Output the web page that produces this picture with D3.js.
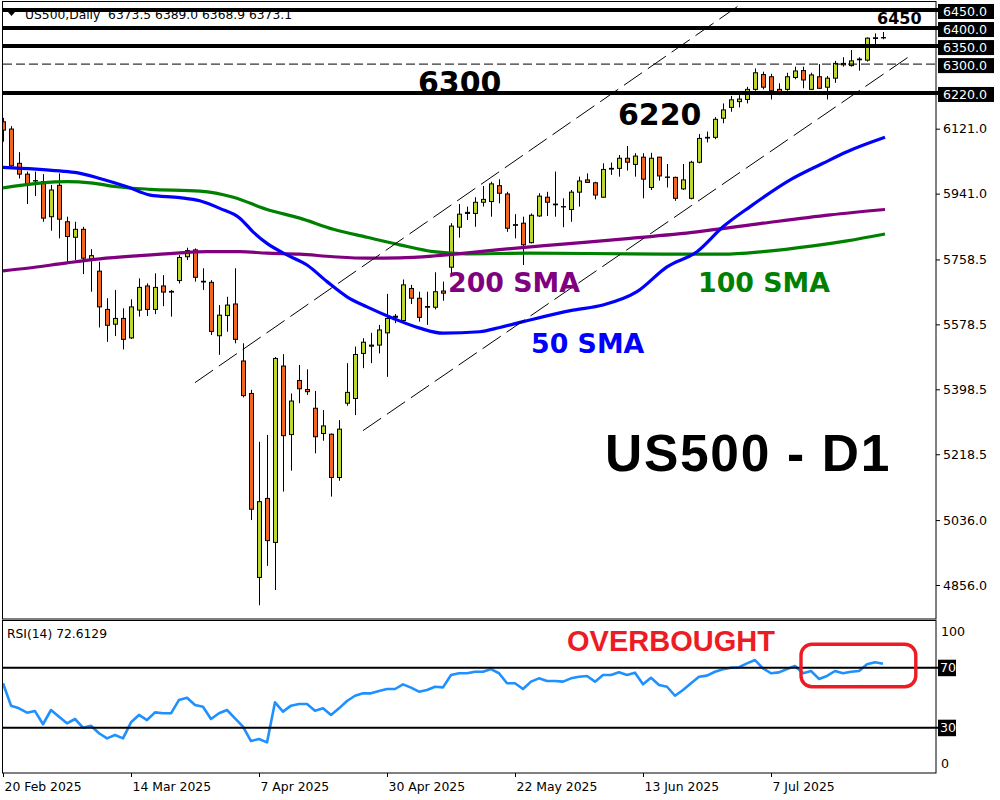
<!DOCTYPE html>
<html><head><meta charset="utf-8">
<script src="https://cdn.jsdelivr.net/npm/d3@7"></script>
<style>body{margin:0;background:#fff}svg{display:block}</style>
</head><body><svg id="c" width="1000" height="800"></svg>
<script>
// ---------- data ----------
const tickIdx = [0,16,32,48,64,80,96];
const tickLabels = ["20 Feb 2025","14 Mar 2025","7 Apr 2025","30 Apr 2025","22 May 2025","13 Jun 2025","7 Jul 2025"];
const open = [6140,6120,6025,5995,5976,5974,5877,5964,5863,5820,
5842,5760,5726,5620,5579,5595,5541,5618,5685,5620,
5685,5668,5700,5766,5785,5698,5695,5547,5603,5635,
5477,5387,4877,5096,4974,5463,5273,5423,5398,5346,
5276,5274,5154,5360,5373,5498,5518,5521,5555,5598,
5589,5678,5651,5626,5626,5671,5737,5848,5886,5886,
5917,5919,5963,5940,5853,5859,5805,5879,5931,5910,
5905,5897,5945,5979,5971,5931,6009,6011,6039,6022,
6042,5958,6042,5987,5986,5954,5928,6028,6095,6097,
6150,6180,6196,6202,6230,6271,6265,6230,6230,6263,
6282,6230,6265,6236,6261,6302,6296,6312,6311,6371,
6373.5];
const high = [6151,6128,6056,6002,6002,5995,5965,5997,5877,5863,
5849,5787,5752,5651,5674,5623,5648,5706,5692,5720,
5715,5674,5771,5791,5789,5734,5701,5632,5655,5734,
5526,5397,5253,5272,5488,5496,5387,5466,5454,5394,
5341,5276,5313,5471,5517,5540,5555,5577,5663,5607,
5703,5688,5669,5669,5723,5697,5859,5912,5905,5931,
5962,5974,5981,5946,5884,5877,5886,5942,5946,6002,
5928,5951,5988,5997,5974,6025,6027,6048,6073,6053,
6053,6054,6043,6023,5988,6023,6032,6106,6113,6153,
6191,6212,6214,6237,6288,6279,6273,6247,6276,6293,
6293,6276,6300,6267,6309,6319,6339,6319,6374,6385,
6389.0];
const low = [6085,6012,5983,5912,5934,5863,5838,5817,5752,5757,
5718,5669,5570,5530,5546,5509,5538,5600,5602,5607,
5629,5600,5692,5757,5697,5674,5549,5494,5558,5526,
5376,5036,4800,4909,4842,5115,5173,5360,5383,5221,
5256,5101,5145,5353,5327,5457,5471,5498,5433,5582,
5581,5635,5586,5577,5620,5644,5720,5819,5868,5849,
5905,5877,5914,5835,5817,5743,5803,5877,5879,5877,
5848,5863,5905,5971,5925,5929,5993,5988,6005,5988,
5928,5951,5977,5958,5921,5951,5925,6025,6083,6092,
6136,6168,6180,6191,6226,6230,6202,6214,6226,6258,
6233,6228,6231,6202,6248,6293,6293,6282,6307,6356,
6368.9];
const close = [6117,6018,5995,5968,5977,5873,5951,5870,5822,5842,
5762,5769,5627,5576,5595,5537,5627,5681,5620,5681,
5668,5670,5764,5783,5709,5696,5559,5604,5632,5537,
5381,5066,5087,4979,5484,5270,5366,5400,5392,5267,
5297,5154,5288,5390,5495,5529,5521,5563,5595,5601,
5688,5651,5598,5628,5669,5665,5851,5884,5889,5917,
5925,5968,5942,5845,5855,5799,5881,5934,5917,5912,
5904,5945,5976,5972,5937,6008,6011,6039,6028,6045,
5981,6039,5990,5986,5928,5979,6028,6094,6097,6147,
6173,6201,6203,6230,6276,6236,6226,6224,6265,6281,
6256,6270,6233,6261,6302,6298,6309,6314,6372,6373,
6373.1];
const rsi = [59.6,44.7,42.9,40,41.1,32.3,41.8,37.3,32.9,35.8,
30,31.3,26.3,22.9,25.1,22.9,33.6,38.5,35.1,40.2,
39.6,39.6,48.5,50,45.1,44,35.8,39.6,41.8,36.2,
30.7,21.1,22.5,20.2,46.9,40.7,44.7,45.8,45.8,41.3,
42.9,38.5,42.9,47.8,51.3,52.9,52.9,54.5,55.8,55.8,
58.9,56.7,54,55.1,57.3,56.9,65.1,66.3,66.3,67.3,
67.3,69.1,66.3,59.6,59.6,55.8,60.7,62.9,61.1,61.1,
60.7,62.9,64,64.5,60.7,65.1,65.1,66.9,65.1,66.7,
58.9,63.3,58.5,57.3,51.3,55.1,59.6,64,64.7,67.3,
68.9,70,70.3,72.9,75.1,69.6,66.3,66.9,69.1,71.1,
66.3,67.8,62.5,64.5,67.8,66.3,67.3,67.8,72.3,73.6,
72.6];
const sma50Idx = [0,7.1,9.2,12.1,15.5,18.4,22.1,24.6,27.1,29.6,31.25,33,35.5,38,40.5,43,45.5,48.8,52.1,55,59.6,62.1,65,71.25,75,79.25,83,86.75,90,93.4,98.4,102.5,105.5,110.25];
const sma50Val = [6014,6004,5999,5983,5960,5937,5930,5921,5900,5873,5835,5803,5771,5743,5697,5655,5627,5595,5568,5554,5558,5570,5586,5618,5632,5669,5738,5780,5849,5905,5979,6025,6057,6097];
const sma100Idx = [0,4.6,8,10.9,14.2,18.4,24.6,28.8,33,37.1,41.3,45.5,49.6,53.8,58,65.9,78.4,90,95,101.25,105.5,110.25];
const sma100Val = [5957,5970,5974,5971,5960,5953,5948,5931,5897,5873,5842,5820,5799,5780,5774,5776,5774,5773,5780,5796,5810,5829];
const sma200Idx = [0,3,8,12.1,17.1,21.7,25.5,29.6,33,37.1,41.3,45.5,49.6,53.8,61.7,70,78.4,86.75,95,103.4,110.25];
const sma200Val = [5727,5734,5749,5760,5769,5776,5780,5780,5776,5773,5766,5762,5763,5768,5785,5801,5817,5835,5859,5882,5897];
const channelIdx = [[24,92.1],[45,113.2]];
const channelVal = [[5417,6464],[5284,6320]];
const levelSolid = [6450,6400,6350,6220];
const levelDashed = [6300];
const axisTicks = [6121.0,5941.0,5758.5,5578.5,5398.5,5218.5,5036.0,4856.0];
const boxTicks = [6450,6400,6350,6300,6220];

// ---------- layout ----------
const L=3, R=936, T=2, MB=619, RT=621, RB=773;
const svg = d3.select('#c');
const x = d3.scaleLinear().domain([0,110]).range([3,883]);
const y = d3.scaleLinear().domain([4856,6450]).range([585,10]);
const yr = d3.scaleLinear().domain([0,100]).range([772.7,622.7]);
const UP='#BED630', DN='#F26522';
const FONT='"DejaVu Sans", Verdana, sans-serif';

const defs = svg.append('defs');
defs.append('clipPath').attr('id','cm').append('rect').attr('x',L).attr('y',T).attr('width',R-L).attr('height',MB-T);
defs.append('clipPath').attr('id','cr').append('rect').attr('x',L).attr('y',RT).attr('width',R-L).attr('height',RB-RT);

// header
svg.append('path').attr('d','M8,12 L15,12 L11.5,16 Z').attr('fill','#000');
svg.append('text').attr('x',25).attr('y',19).attr('font-family',FONT).attr('font-size',12.3)
  .attr('fill','#000').attr('xml:space','preserve').text('US500,Daily  6373.5 6389.0 6368.9 6373.1');

// big annotations
svg.append('text').attr('x',418).attr('y',92.5).attr('font-family',FONT).attr('font-weight','bold').attr('font-size',30).text('6300');
svg.append('text').attr('x',618).attr('y',125).attr('font-family',FONT).attr('font-weight','bold').attr('font-size',30).text('6220');
svg.append('text').attr('x',877).attr('y',24).attr('font-family',FONT).attr('font-weight','bold').attr('font-size',16).text('6450');

const gm = svg.append('g').attr('clip-path','url(#cm)');
// candles
const idx = d3.range(open.length);
gm.selectAll('line.w').data(idx).join('line').attr('class','w')
  .attr('x1',i=>x(i)+0.5).attr('x2',i=>x(i)+0.5)
  .attr('y1',i=>y(high[i])).attr('y2',i=>y(low[i]))
  .attr('stroke','#000').attr('stroke-width',1);
gm.selectAll('rect.b').data(idx).join('rect').attr('class','b')
  .attr('x',i=>x(i)-1.5).attr('width',4)
  .attr('y',i=>y(Math.max(open[i],close[i])))
  .attr('height',i=>Math.max(0.3,Math.abs(y(open[i])-y(close[i]))))
  .attr('fill',i=>close[i]>=open[i]?UP:DN).attr('stroke','#000').attr('stroke-width',1);

// SMAs
const smaLine = d3.line().x(d=>x(d[0])).y(d=>y(d[1])).curve(d3.curveMonotoneX);
[[sma100Idx,sma100Val,'#008000'],[sma200Idx,sma200Val,'#800080'],[sma50Idx,sma50Val,'#0000FF']].forEach(([ix,vv,c])=>{
  gm.append('path').attr('d',smaLine(ix.map((d,k)=>[d,vv[k]]))).attr('fill','none').attr('stroke',c).attr('stroke-width',3.2);
});

// channel
channelIdx.forEach((ix,k)=>{
  gm.append('line').attr('x1',x(ix[0])).attr('y1',y(channelVal[k][0])).attr('x2',x(ix[1])).attr('y2',y(channelVal[k][1]))
    .attr('stroke','#000').attr('stroke-width',1).attr('stroke-dasharray','22,7');
});

// level lines
svg.selectAll('line.lv').data(levelSolid).join('line').attr('class','lv')
  .attr('x1',L).attr('x2',938).attr('y1',d=>y(d)).attr('y2',d=>y(d)).attr('stroke','#000').attr('stroke-width',4);
svg.selectAll('line.ld').data(levelDashed).join('line').attr('class','ld')
  .attr('x1',L).attr('x2',R).attr('y1',d=>y(d)).attr('y2',d=>y(d)).attr('stroke','#000').attr('stroke-width',1).attr('stroke-dasharray','9,4');

// labels
svg.append('text').attr('x',448).attr('y',291.5).attr('font-family',FONT).attr('font-weight','bold').attr('font-size',26.8).attr('fill','#800080').text('200 SMA');
svg.append('text').attr('x',698).attr('y',292).attr('font-family',FONT).attr('font-weight','bold').attr('font-size',26.8).attr('fill','#008000').text('100 SMA');
svg.append('text').attr('x',531).attr('y',352.5).attr('font-family',FONT).attr('font-weight','bold').attr('font-size',26.8).attr('fill','#0000FF').text('50 SMA');
svg.append('text').attr('x',605).attr('y',470.5).attr('font-family','"Liberation Sans", Arial, sans-serif').attr('font-weight','bold').attr('font-size',51.5).attr('letter-spacing',1.7).text('US500 - D1');

// RSI panel
const gr = svg.append('g').attr('clip-path','url(#cr)');
[70,30].forEach(v=>{
  svg.append('line').attr('x1',L).attr('x2',938).attr('y1',yr(v)).attr('y2',yr(v)).attr('stroke','#000').attr('stroke-width',2);
});
gr.append('path').attr('d',d3.line().x((d,i)=>x(i)).y(d=>yr(d))(rsi)).attr('fill','none').attr('stroke','#1E90FF').attr('stroke-width',2.6).attr('stroke-linejoin','round');
svg.append('text').attr('x',7).attr('y',638).attr('font-family',FONT).attr('font-size',12.3).attr('fill','#000').text('RSI(14) 72.6129');
svg.append('text').attr('x',567).attr('y',651).attr('font-family','"Liberation Sans", Arial, sans-serif').attr('font-weight','bold').attr('font-size',29).attr('fill','#ED1C24').text('OVERBOUGHT');
svg.append('rect').attr('x',x(99.75)).attr('y',yr(85.6)).attr('width',x(114.1)-x(99.75)).attr('height',yr(57.3)-yr(85.6))
  .attr('rx',11).attr('fill','none').attr('stroke','#ED1C24').attr('stroke-width',3.4);

// frames
svg.append('rect').attr('x',2.5).attr('y',1.5).attr('width',933.5).attr('height',617.5).attr('fill','none').attr('stroke','#000');
svg.append('rect').attr('x',2.5).attr('y',620.5).attr('width',933.5).attr('height',152.5).attr('fill','none').attr('stroke','#000');

// right price axis
const ay = svg.append('g').attr('transform',`translate(${R},0)`)
  .call(d3.axisRight(y).tickValues(axisTicks).tickSize(4).tickFormat(d=>d.toFixed(1)));
ay.select('.domain').remove();
ay.selectAll('text').attr('font-family',FONT).attr('font-size',12.6).attr('fill','#000');
ay.selectAll('line').attr('stroke','#000');
boxTicks.forEach(v=>{
  svg.append('rect').attr('x',938).attr('y',y(v)+1.5-7.5).attr('width',56).attr('height',15).attr('fill','#000');
  svg.append('text').attr('x',943).attr('y',y(v)+1.5).attr('dy','0.35em').attr('font-family',FONT).attr('font-size',12.6).attr('fill','#fff').text(v.toFixed(1));
});

// RSI axis
[[100,9],[0,-9.5]].forEach(([v,o])=>{
  svg.append('text').attr('x',941).attr('y',yr(v)+o).attr('dy','0.35em').attr('font-family',FONT).attr('font-size',12.6).attr('fill','#000').text(v);
});
[70,30].forEach(v=>{
  svg.append('rect').attr('x',938).attr('y',yr(v)-8).attr('width',18).attr('height',16.5).attr('fill','#000');
  svg.append('text').attr('x',940).attr('y',yr(v)).attr('dy','0.35em').attr('font-family',FONT).attr('font-size',12.6).attr('fill','#fff').text(v);
});

// date axis
const ax = svg.append('g').attr('transform',`translate(0,${RB})`)
  .call(d3.axisBottom(x).tickValues(tickIdx).tickSize(4).tickFormat((d,i)=>tickLabels[i]));
ax.select('.domain').remove();
ax.selectAll('line').attr('stroke','#000');
ax.selectAll('text').attr('text-anchor','start').attr('x',1).attr('y',18).attr('dy',null)
  .attr('font-family',FONT).attr('font-size',12.4).attr('fill','#000');
</script></body></html>
